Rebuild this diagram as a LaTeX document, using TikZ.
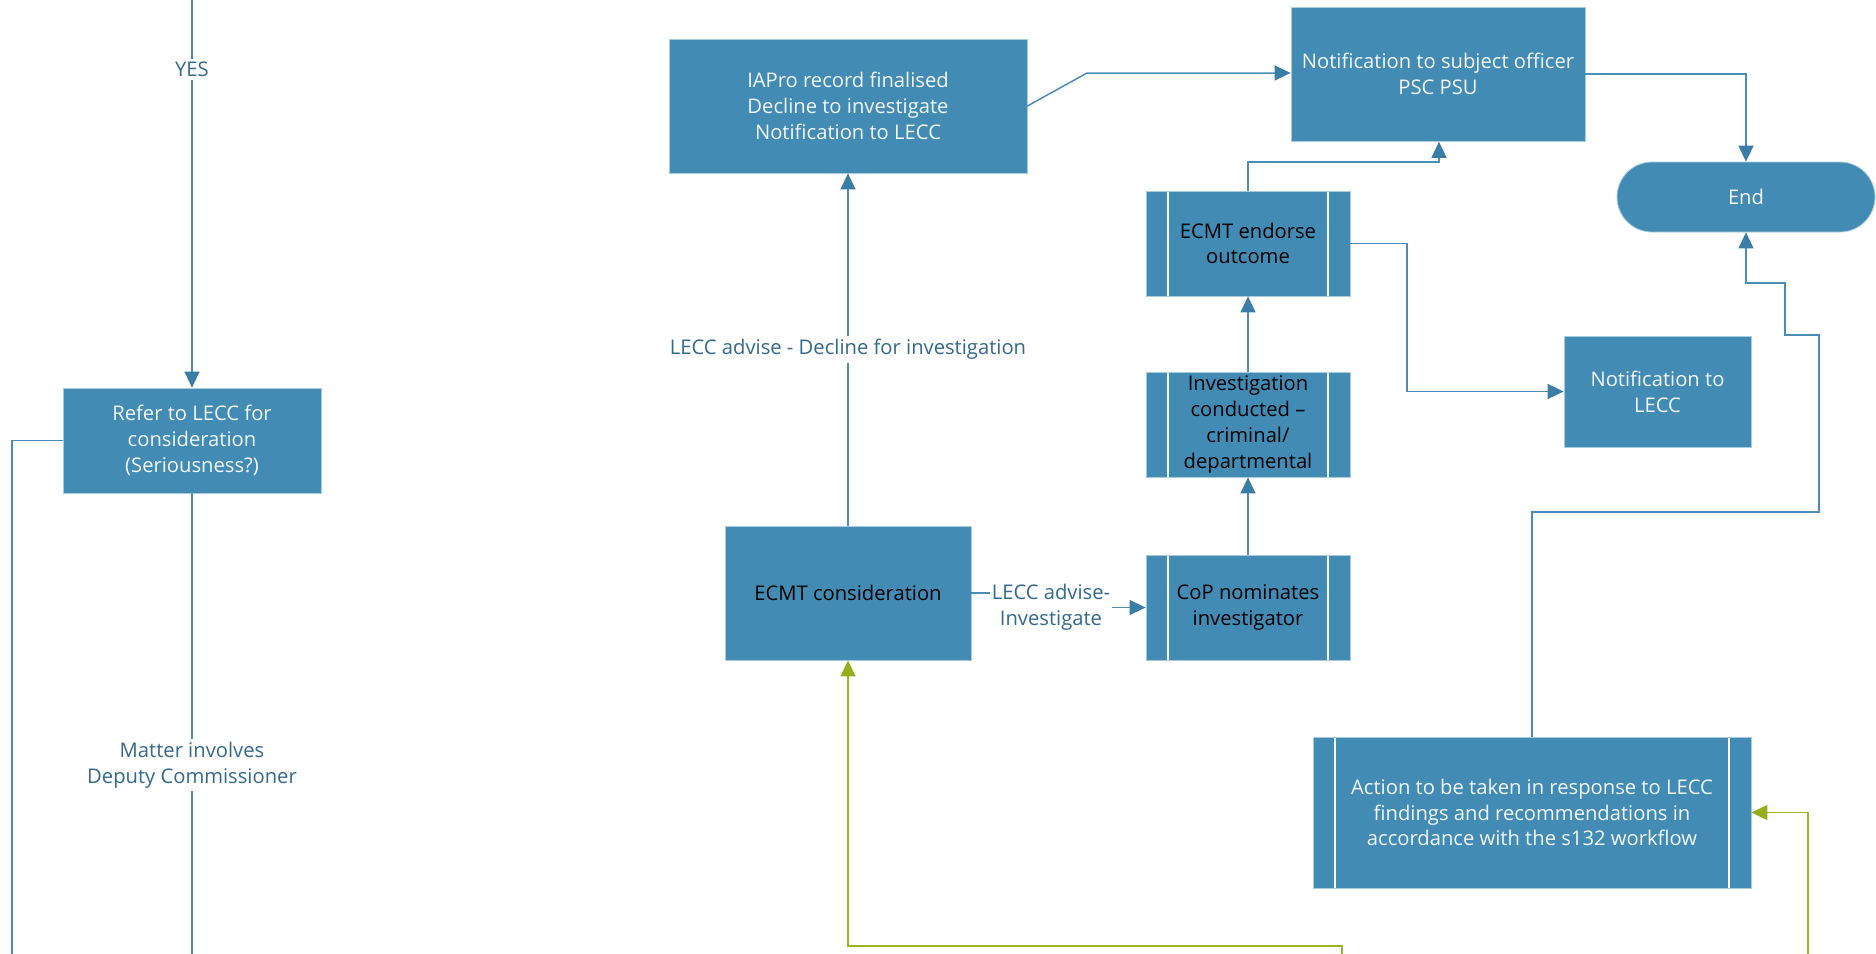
\documentclass[tikz,border=0pt]{standalone}
\usepackage{fontspec}
\setmainfont{Open Sans}
\usetikzlibrary{arrows.meta}
\definecolor{boxblue}{HTML}{428BB4}
\definecolor{boxedge}{HTML}{A9CBE0}
\definecolor{linkblue}{HTML}{4A8DB6}
\definecolor{tipblue}{HTML}{3A7DA6}
\definecolor{labblue}{HTML}{34698C}
\definecolor{linkgreen}{HTML}{9EB427}
\definecolor{tipgreen}{HTML}{97AE1C}
\definecolor{boxtext}{HTML}{F4F7FA}
\tikzset{
  box/.style={draw=boxedge, line width=0.4pt, fill=boxblue, text=boxtext, align=center, inner sep=0pt,
    font=\fontsize{10.1}{12.9}\selectfont},
  darktext/.style={text=black},
  subproc/.style={box, path picture={
      \draw[white, line width=0.6pt] ([xshift=11pt]path picture bounding box.north west) -- ([xshift=11pt]path picture bounding box.south west);
      \draw[white, line width=0.6pt] ([xshift=-11pt]path picture bounding box.north east) -- ([xshift=-11pt]path picture bounding box.south east);}},
  terminal/.style={box, rounded corners=17.5pt},
  link/.style={draw=linkblue, line width=0.75pt, -{Triangle[length=8pt,width=7.5pt,fill=tipblue,color=tipblue]}},
  plain/.style={draw=linkblue, line width=0.75pt},
  glink/.style={draw=linkgreen, line width=0.75pt, -{Triangle[length=8pt,width=7.5pt,fill=tipgreen,color=tipgreen]}},
  lab/.style={fill=white, text=labblue, align=center, inner sep=1.5pt, font=\fontsize{10.1}{12.9}\selectfont},
}
\begin{document}
\begin{tikzpicture}[x=0.5pt,y=-0.5pt]
\useasboundingbox (0,0) rectangle (1876,954);

% nodes
\node[box, minimum width=129pt, minimum height=52.5pt] (refer) at (192,440.5) {Refer to LECC for\\consideration\\(Seriousness?)};
\node[box, minimum width=179pt, minimum height=67pt] (iapro) at (848,106) {IAPro record finalised\\Decline to investigate\\Notification to LECC};
\node[box, minimum width=147pt, minimum height=67pt, anchor=north] (notif) at (1438,7) {};
\node[text=boxtext, align=center, font=\fontsize{10.1}{12.9}\selectfont] (notiftxt) at (1438,73.5) {Notification to subject officer\\PSC PSU};
\node[terminal, minimum width=129pt, minimum height=35pt] (end) at (1746,197) {End};
\node[subproc, darktext, minimum width=102pt, minimum height=52.5pt] (endorse) at (1248,243.5) {ECMT endorse\\outcome};
\node[subproc, darktext, minimum width=102pt, minimum height=52.5pt] (invest) at (1248,424.5) {Investigation\\conducted --\\criminal/\\departmental};
\node[subproc, darktext, minimum width=102pt, minimum height=52.5pt] (cop) at (1248,607.5) {CoP nominates\\investigator};
\node[box, minimum width=93.5pt, minimum height=55.5pt] (notlecc) at (1657.5,391.5) {Notification to\\LECC};
\node[box, darktext, minimum width=123pt, minimum height=67pt] (ecmt) at (848,593) {ECMT consideration};
\node[subproc, minimum width=219pt, minimum height=75.5pt] (action) at (1532,812.5) {Action to be taken in response to LECC\\findings and recommendations in\\accordance with the s132 workflow};

% free ends
\coordinate (topstart) at (192,0);
\coordinate (midend) at (192,954);
\coordinate (leftend) at (12,954);
\coordinate (g1start) at (1342,954);
\coordinate (g2start) at (1808,954);

% connectors
\draw[link] (topstart) -- (refer.north) node[lab, pos=0.18] {YES};
\draw[plain] (refer.south) -- (midend) node[lab, pos=0.59] {Matter involves\\Deputy Commissioner};
\draw[plain] (refer.west) -- (12,440.5) -- (leftend);
\draw[link] (ecmt.north) -- (iapro.south) node[lab, pos=0.5] {LECC advise - Decline for investigation};
\draw[link] (iapro.east) -- (1087,73) -- (notif.west |- 0,73);
\draw[link] (notif.east |- 0,74) -- (1746,74) -- (end.north);
\draw[link] (endorse.north) -- (1248,162) -- (1439,162) -- (notif.south -| 1439,0);
\draw[link] (endorse.east) -- (1407,243.5) -- (1407,391.5) -- (notlecc.west);
\draw[link] (invest.north) -- (endorse.south);
\draw[link] (cop.north) -- (invest.south);
\draw[link] (ecmt.east) -- (1050,593) -- (1050,607.5) -- (cop.west);
\node[lab, inner sep=1pt] (advlab) at (1051,607) {LECC advise-\\Investigate};
\draw[link] (action.north) -- (1532,512) -- (1819,512) -- (1819,335) -- (1785,335) -- (1785,283) -- (1746,283) -- (end.south);
\draw[glink] (g1start) -- (1342,946) -- (848,946) -- (ecmt.south);
\draw[glink] (g2start) -- (1808,812.5) -- (action.east);
\end{tikzpicture}
\end{document}
